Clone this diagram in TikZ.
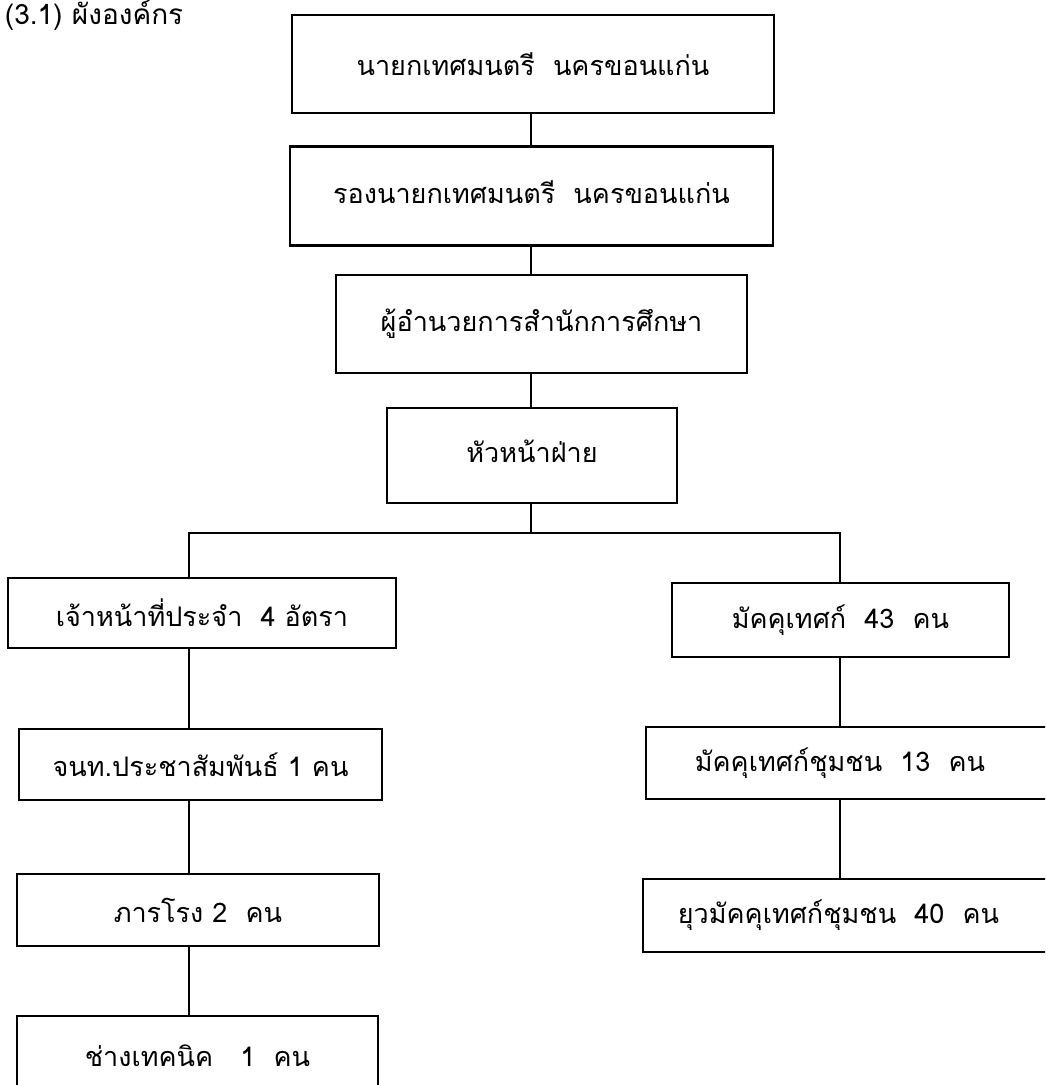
\documentclass[tikz,border=0pt]{standalone}
\usepackage{fontspec}
\newfontfamily\thaifont[Script=Thai]{Loma}
\begin{document}
\begin{tikzpicture}[x=1pt,y=-1pt,
  line width=2pt,
  orgbox/.style={draw, line width=2.2pt, rectangle, inner sep=0pt,
    font=\thaifont\fontsize{27}{32}\selectfont},
  link/.style={line width=2pt}]
\useasboundingbox (0,0) rectangle (1045,1085);
\clip (0,0) rectangle (1045,1085);

% heading
\node[anchor=base west, inner sep=0pt, font=\thaifont\fontsize{28}{32}\selectfont] (head) at (4,24) {(3.1) ผังองค์กร};

% upper chain (labels sit a little above the middle of the tall boxes)
\node[orgbox, minimum width=482, minimum height=98] (b1) at (533,64) {นายกเทศมนตรี\ \ นครขอนแก่น};
\node[orgbox, minimum width=483, minimum height=99] (b2) at (531.5,196) {\raisebox{7pt}{รองนายกเทศมนตรี\ \ นครขอนแก่น}};
\node[orgbox, minimum width=411, minimum height=98] (b3) at (541.5,324) {\raisebox{4pt}{ผู้อำนวยการสำนักการศึกษา}};
\node[orgbox, minimum width=290, minimum height=95] (b4) at (532,455.5) {\raisebox{8pt}{หัวหน้าฝ่าย}};

% left column
\node[orgbox, minimum width=388, minimum height=70] (l1) at (202,613) {เจ้าหน้าที่ประจำ\ \ 4 อัตรา};
\node[orgbox, minimum width=363, minimum height=71] (l2) at (200.5,764.5) {จนท.ประชาสัมพันธ์ 1 คน};
\node[orgbox, minimum width=362, minimum height=72] (l3) at (198,910) {ภารโรง 2\ \ คน};
\node[orgbox, minimum width=361, minimum height=80] (l4) at (197.5,1056) {ช่างเทคนิค\ \ \ 1\ \ คน};

% right column
\node[orgbox, minimum width=337, minimum height=74] (r1) at (840.5,620) {มัคคุเทศก์\ \ 43\ \ คน};
\node[orgbox, minimum width=414, minimum height=72] (r2) at (853,763) {\hspace*{-26pt}มัคคุเทศก์ชุมชน\ \ 13\ \ คน};
\node[orgbox, minimum width=417, minimum height=73] (r3) at (851.5,915.5) {\hspace*{-26pt}ยุวมัคคุเทศก์ชุมชน\ \ 40\ \ คน};

% branch points
\coordinate (busL) at (189,533);
\coordinate (busR) at (840,533);
\coordinate (busM) at (531,533);

% connectors
\draw[link] (b1.south -| busM) -- (b2.north -| busM);
\draw[link] (b2.south -| busM) -- (b3.north -| busM);
\draw[link] (b3.south -| busM) -- (b4.north -| busM);
\draw[link] (b4.south -| busM) -- (busM);
\draw[link] (busL |- l1.north) -- (busL) -- (busR) -- (busR |- r1.north);
\draw[link] (l1.south -| busL) -- (l2.north -| busL);
\draw[link] (l2.south -| busL) -- (l3.north -| busL);
\draw[link] (l3.south -| busL) -- (l4.north -| busL);
\draw[link] (r1.south -| busR) -- (r2.north -| busR);
\draw[link] (r2.south -| busR) -- (r3.north -| busR);
\end{tikzpicture}
\end{document}
